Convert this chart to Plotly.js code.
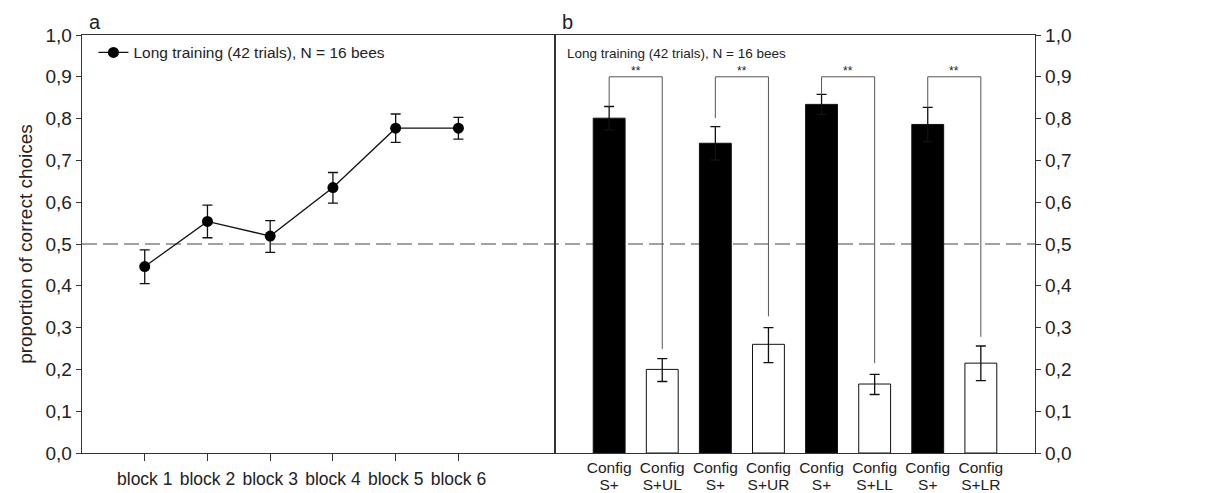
<!DOCTYPE html>
<html>
<head>
<meta charset="utf-8">
<script src="https://cdn.plot.ly/plotly-3.0.1.min.js"></script>
<style>html,body{margin:0;padding:0;background:#fff;}#chart{width:1207px;height:493px;}</style>
</head>
<body>
<div id="chart"></div>
<script>
// Panel a: learning curve
const blockLabels = ['block 1','block 2','block 3','block 4','block 5','block 6'];
const blockMean   = [0.446, 0.554, 0.519, 0.635, 0.777, 0.777];
const blockUpper  = [0.486, 0.593, 0.556, 0.671, 0.811, 0.803];
const blockLower  = [0.405, 0.515, 0.480, 0.598, 0.743, 0.751];

// Panel b: transfer tests
const barLabelTop    = ['Config','Config','Config','Config','Config','Config','Config','Config'];
const barLabelBottom = ['S+','S+UL','S+','S+UR','S+','S+LL','S+','S+LR'];
const barMean   = [0.801, 0.200, 0.741, 0.260, 0.834, 0.165, 0.786, 0.215];
const barUpper  = [0.829, 0.226, 0.781, 0.300, 0.858, 0.188, 0.827, 0.256];
const barLower  = [0.773, 0.171, 0.701, 0.216, 0.810, 0.140, 0.745, 0.173];
const barIsSplus = [true,false,true,false,true,false,true,false];

// significance brackets (one per pair)
const bracketTop   = [0.9, 0.9, 0.9, 0.9];
const bracketLeft  = [0.829, 0.801, 0.858, 0.827];
const bracketRight = [0.249, 0.327, 0.215, 0.278];
const bracketText  = ['**','**','**','**'];

const chance = 0.5;
const legendText = 'Long training (42 trials), N = 16 bees';

const axisColor = '#333';
const font = 'Liberation Sans, Arial, sans-serif';

const blockX = blockLabels.map((_, i) => i + 1);
const barX = barLabelTop.map((_, i) => i);

const traces = [];
traces.push({
  type: 'scatter', mode: 'lines+markers',
  x: blockX, y: blockMean,
  name: legendText,
  line: {color: '#111', width: 1.3},
  marker: {color: '#000', size: 11, symbol: 'circle'},
  error_y: {type: 'data', symmetric: false,
    array: blockUpper.map((u, i) => u - blockMean[i]),
    arrayminus: blockMean.map((m, i) => m - blockLower[i]),
    color: '#111', thickness: 1.3, width: 5},
  xaxis: 'x', yaxis: 'y', showlegend: true
});
traces.push({
  type: 'bar', x: barX, y: barMean, width: 0.6,
  marker: {color: barIsSplus.map(s => s ? '#000' : '#fff'),
           line: {color: '#111', width: 1}},
  error_y: {type: 'data', symmetric: false,
    array: barUpper.map((u, i) => u - barMean[i]),
    arrayminus: barMean.map((m, i) => m - barLower[i]),
    color: '#111', thickness: 1.3, width: 5},
  xaxis: 'x2', yaxis: 'y2', showlegend: false, hoverinfo: 'y'
});
// invisible trace to carry the second line of the bar tick labels
traces.push({type: 'scatter', mode: 'markers', x: barX, y: barMean, marker: {opacity: 0},
  xaxis: 'x3', yaxis: 'y2', showlegend: false, hoverinfo: 'skip'});

const annotations = [];
bracketTop.forEach((t, k) => {
  const xl = barX[2 * k], xr = barX[2 * k + 1];
  traces.push({
    type: 'scatter', mode: 'lines',
    x: [xl, xl, xr, xr], y: [bracketLeft[k], t, t, bracketRight[k]],
    line: {color: '#555', width: 1}, xaxis: 'x2', yaxis: 'y2',
    showlegend: false, hoverinfo: 'skip'
  });
  annotations.push({xref: 'x2', yref: 'y2', x: (xl + xr) / 2, y: t,
    text: bracketText[k], showarrow: false, yanchor: 'bottom', yshift: -3,
    font: {family: font, size: 12, color: '#222'}});
});

const dom = 473 / 953;
annotations.push({xref: 'paper', yref: 'paper', x: 0.005, y: 1.0, xanchor: 'left', yanchor: 'bottom',
  text: 'a', showarrow: false, font: {family: font, size: 20, color: '#222'}});
annotations.push({xref: 'paper', yref: 'paper', x: dom + 0.005, y: 1.0, xanchor: 'left', yanchor: 'bottom',
  text: 'b', showarrow: false, font: {family: font, size: 20, color: '#222'}});
annotations.push({xref: 'paper', yref: 'paper', x: dom + 0.01, y: 0.978, xanchor: 'left', yanchor: 'top',
  text: legendText, showarrow: false, font: {family: font, size: 13.5, color: '#222'}});

const yCommon = {range: [0, 1], tickvals: [0,0.1,0.2,0.3,0.4,0.5,0.6,0.7,0.8,0.9,1.0], tickformat: '.1f',
  showline: true, linecolor: axisColor, linewidth: 1.3, mirror: true, ticks: 'outside', ticklen: 5,
  tickcolor: axisColor, showgrid: false, zeroline: false,
  tickfont: {family: font, size: 19, color: '#222'}};

const layout = {
  width: 1207, height: 493,
  margin: {l: 82, r: 172, t: 35, b: 40},
  paper_bgcolor: '#fff', plot_bgcolor: '#fff',
  separators: ',.',
  font: {family: font, color: '#222'},
  showlegend: true,
  legend: {x: 0.012, y: 0.998, xanchor: 'left', yanchor: 'top', bgcolor: 'rgba(0,0,0,0)',
    font: {family: font, size: 15.5, color: '#222'}, itemwidth: 30},
  xaxis: {domain: [0, dom], range: [0, 7.54], tickvals: blockX, ticktext: blockLabels,
    showline: true, linecolor: axisColor, linewidth: 1.3, mirror: true, ticks: 'outside', ticklen: 7,
    tickcolor: axisColor, showgrid: false, zeroline: false, ticklabelstandoff: 3,
    tickfont: {family: font, size: 17.5, color: '#222'}},
  yaxis: Object.assign({}, yCommon, {anchor: 'x',
    title: {text: 'proportion of correct choices', font: {family: font, size: 19, color: '#222'}, standoff: 7}}),
  xaxis2: {domain: [dom, 1], range: [-1.02, 8.02], tickvals: barX, ticktext: barLabelTop,
    showline: true, linecolor: axisColor, linewidth: 1.3, mirror: true, ticks: '',
    showgrid: false, zeroline: false, anchor: 'y2',
    tickfont: {family: font, size: 15.5, color: '#222'}},
  xaxis3: {domain: [dom, 1], range: [-1.02, 8.02], tickvals: barX, ticktext: barLabelBottom,
    overlaying: 'x2', anchor: 'y2', side: 'bottom', showline: false, ticks: '',
    showgrid: false, zeroline: false, ticklabelstandoff: 20,
    tickfont: {family: font, size: 15.5, color: '#222'}},
  yaxis2: Object.assign({}, yCommon, {anchor: 'x2', side: 'right'}),
  shapes: [{type: 'line', xref: 'paper', yref: 'y', x0: 0, x1: 1, y0: chance, y1: chance,
    layer: 'below', line: {color: '#444', width: 1, dash: '15px,6px'}}],
  annotations: annotations
};

Plotly.newPlot('chart', traces, layout, {displayModeBar: false, staticPlot: true});
</script>
</body>
</html>
